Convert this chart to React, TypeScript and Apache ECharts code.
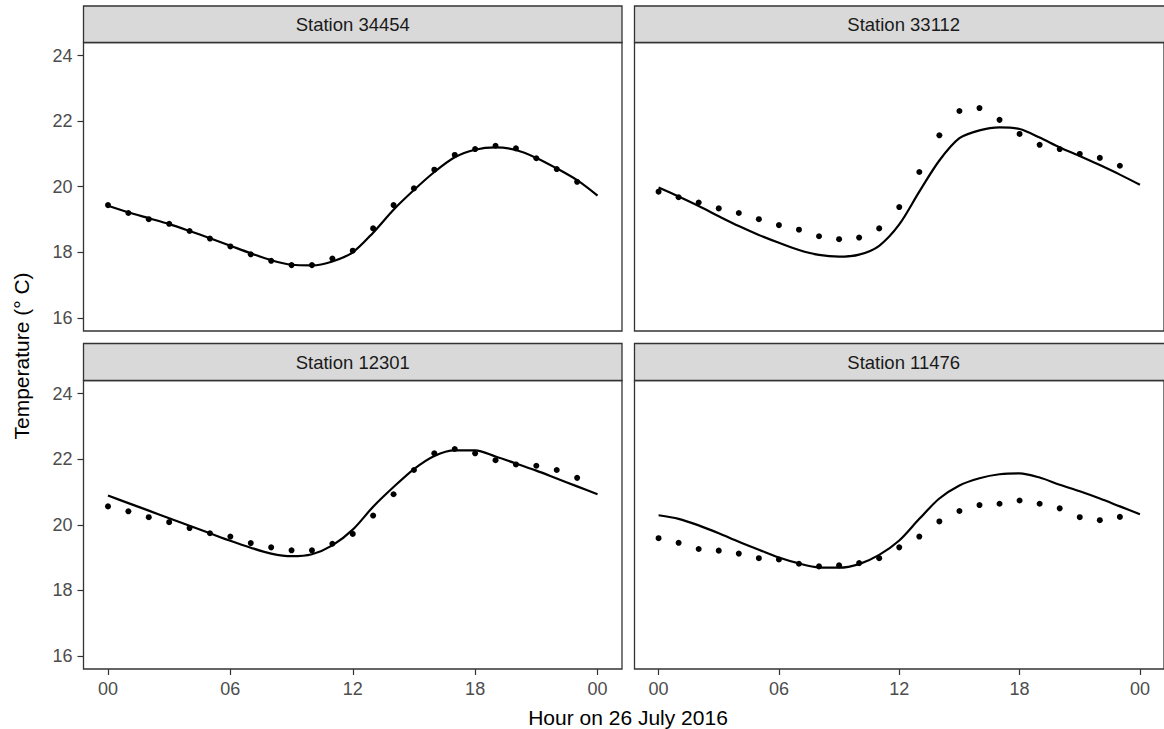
import React, { useEffect, useRef } from "react";
import * as echarts from "echarts";

const stations = ["Station 34454", "Station 33112", "Station 12301", "Station 11476"];
const obsHours = [0, 1, 2, 3, 4, 5, 6, 7, 8, 9, 10, 11, 12, 13, 14, 15, 16, 17, 18, 19, 20, 21, 22, 23];
const modelHours = [0, 1, 2, 3, 4, 5, 6, 7, 8, 9, 10, 11, 12, 13, 14, 15, 16, 17, 18, 19, 20, 21, 22, 23, 24];

const obs34454 = [19.44, 19.2, 19.01, 18.87, 18.65, 18.42, 18.18, 17.94, 17.74, 17.61, 17.61, 17.81, 18.05, 18.73, 19.44, 19.95, 20.52, 20.97, 21.15, 21.25, 21.17, 20.87, 20.54, 20.15];
const model34454 = [19.42, 19.22, 19.04, 18.86, 18.65, 18.43, 18.2, 17.97, 17.76, 17.62, 17.6, 17.72, 18.0, 18.6, 19.3, 19.9, 20.45, 20.9, 21.13, 21.2, 21.12, 20.88, 20.56, 20.2, 19.73];

const obs33112 = [19.85, 19.68, 19.52, 19.34, 19.2, 19.01, 18.83, 18.69, 18.49, 18.4, 18.45, 18.73, 19.38, 20.45, 21.57, 22.31, 22.4, 22.04, 21.61, 21.28, 21.15, 21.0, 20.88, 20.64];
const model33112 = [19.98, 19.7, 19.41, 19.1, 18.8, 18.53, 18.29, 18.07, 17.92, 17.87, 17.93, 18.2, 18.85, 19.85, 20.8, 21.48, 21.72, 21.81, 21.76, 21.5, 21.2, 20.94, 20.66, 20.37, 20.06];

const obs12301 = [20.56, 20.41, 20.23, 20.08, 19.9, 19.74, 19.64, 19.44, 19.31, 19.22, 19.22, 19.42, 19.72, 20.28, 20.93, 21.67, 22.18, 22.31, 22.18, 21.97, 21.84, 21.8, 21.67, 21.43];
const model12301 = [20.89, 20.66, 20.43, 20.2, 19.97, 19.74, 19.51, 19.3, 19.12, 19.04, 19.1, 19.37, 19.85, 20.55, 21.15, 21.7, 22.1, 22.27, 22.27, 22.08, 21.87, 21.65, 21.41, 21.17, 20.93];

const obs11476 = [19.59, 19.45, 19.26, 19.21, 19.12, 18.98, 18.94, 18.81, 18.73, 18.76, 18.83, 18.98, 19.31, 19.64, 20.1, 20.42, 20.6, 20.64, 20.74, 20.64, 20.5, 20.23, 20.14, 20.24];
const model11476 = [20.29, 20.18, 19.98, 19.74, 19.48, 19.24, 19.0, 18.82, 18.7, 18.69, 18.8, 19.08, 19.52, 20.18, 20.8, 21.2, 21.42, 21.54, 21.57, 21.44, 21.22, 21.02, 20.8, 20.56, 20.32];

const xTicks = [0, 6, 12, 18, 24];
const yTicks = [16, 18, 20, 22, 24];
const xTitle = "Hour on 26 July 2016";
const yTitle = "Temperature (° C)";

const obsSets = [obs34454, obs33112, obs12301, obs11476];
const modelSets = [model34454, model33112, model12301, model11476];

const FONT = "'Liberation Sans', Arial, sans-serif";

export default function App() {
  const ref = useRef<HTMLDivElement>(null);

  useEffect(() => {
    if (!ref.current) return;
    const chart = echarts.init(ref.current, null, { renderer: "svg" });

    const L = [83.5, 634.5];
    const T = [42.5, 380.5];
    const W = 538.5;
    const H = 288.5;
    const stripTop = [6, 343.5];

    const grids: any[] = [];
    const xAxes: any[] = [];
    const yAxes: any[] = [];
    const series: any[] = [];
    const graphics: any[] = [];

    for (let i = 0; i < 4; i++) {
      const col = i % 2;
      const row = Math.floor(i / 2);
      grids.push({
        left: L[col],
        top: T[row],
        width: W,
        height: H,
        show: true,
        backgroundColor: "#ffffff",
        borderColor: "#333333",
        borderWidth: 1.3,
        containLabel: false,
      });
      xAxes.push({
        type: "value",
        gridIndex: i,
        position: "bottom",
        min: -1.2,
        max: 25.2,
        axisLine: { show: false, onZero: false },
        splitLine: { show: false },
        axisTick: {
          show: row === 1,
          length: 6,
          customValues: xTicks,
          lineStyle: { color: "#333333", width: 1.2 },
        },
        axisLabel: {
          show: row === 1,
          customValues: xTicks,
          margin: 11,
          color: "#4D4D4D",
          fontSize: 18,
          fontFamily: FONT,
          formatter: (v: number) => String(v % 24).padStart(2, "0"),
        },
      });
      yAxes.push({
        type: "value",
        gridIndex: i,
        position: "left",
        min: 15.6,
        max: 24.4,
        axisLine: { show: false, onZero: false },
        splitLine: { show: false },
        axisTick: {
          show: col === 0,
          length: 6,
          customValues: yTicks,
          lineStyle: { color: "#333333", width: 1.2 },
        },
        axisLabel: {
          show: col === 0,
          customValues: yTicks,
          margin: 11,
          color: "#4D4D4D",
          fontSize: 18,
          fontFamily: FONT,
        },
      });
      series.push({
        type: "line",
        xAxisIndex: i,
        yAxisIndex: i,
        data: modelHours.map((h, k) => [h, modelSets[i][k]]),
        showSymbol: false,
        smooth: 0.3,
        lineStyle: { color: "#000000", width: 2.2 },
        itemStyle: { color: "#000000" },
        silent: true,
        z: 2,
      });
      series.push({
        type: "scatter",
        xAxisIndex: i,
        yAxisIndex: i,
        data: obsHours.map((h, k) => [h, obsSets[i][k]]),
        symbol: "circle",
        symbolSize: 6,
        itemStyle: { color: "#000000", opacity: 1 },
        silent: true,
        z: 3,
      });
      graphics.push({
        type: "rect",
        shape: { x: L[col], y: stripTop[row], width: W, height: T[row] - stripTop[row] },
        style: { fill: "#D9D9D9", stroke: "#333333", lineWidth: 1.3 },
        z: 10,
      });
      graphics.push({
        type: "text",
        x: L[col] + W / 2,
        y: (stripTop[row] + T[row]) / 2,
        style: {
          text: stations[i],
          fill: "#1A1A1A",
          font: `18.5px ${FONT}`,
          textAlign: "center",
          textVerticalAlign: "middle",
          align: "center",
          verticalAlign: "middle",
        },
        z: 11,
      });
    }

    graphics.push({
      type: "text",
      x: 628,
      y: 717,
      style: {
        text: xTitle,
        fill: "#000000",
        font: `21px ${FONT}`,
        textAlign: "center",
        textVerticalAlign: "middle",
        align: "center",
        verticalAlign: "middle",
      },
    });
    graphics.push({
      type: "text",
      x: 21,
      y: 356,
      rotation: Math.PI / 2,
      style: {
        text: yTitle,
        fill: "#000000",
        font: `21px ${FONT}`,
        textAlign: "center",
        textVerticalAlign: "middle",
        align: "center",
        verticalAlign: "middle",
      },
    });

    chart.setOption({
      animation: false,
      backgroundColor: "#ffffff",
      grid: grids,
      xAxis: xAxes,
      yAxis: yAxes,
      series,
      graphic: graphics,
    });

    return () => chart.dispose();
  }, []);

  return (
    <div
      ref={ref}
      style={{ position: "fixed", left: 0, top: 0, width: 1164, height: 729, background: "#fff" }}
    />
  );
}
